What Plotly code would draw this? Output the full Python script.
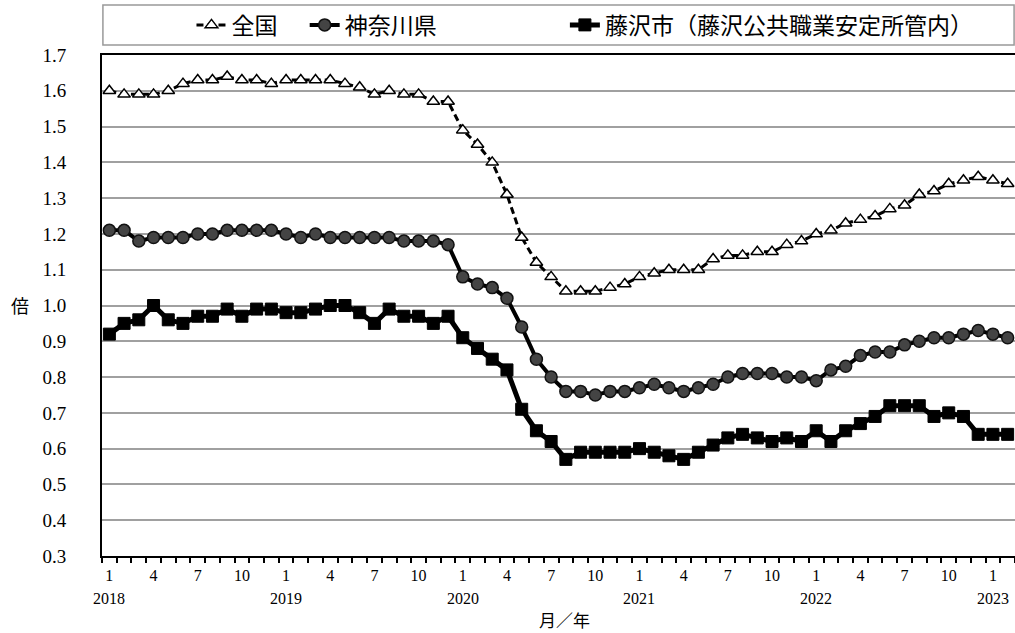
import plotly.graph_objects as go

years = [2018, 2019, 2020, 2021, 2022, 2023]
months_per_year = [12, 12, 12, 12, 12, 2]
tick_months = [1, 4, 7, 10]

national = [
    1.60, 1.59, 1.59, 1.59, 1.60, 1.62, 1.63, 1.63, 1.64, 1.63, 1.63, 1.62,
    1.63, 1.63, 1.63, 1.63, 1.62, 1.61, 1.59, 1.60, 1.59, 1.59, 1.57, 1.57,
    1.49, 1.45, 1.40, 1.31, 1.19, 1.12, 1.08, 1.04, 1.04, 1.04, 1.05, 1.06,
    1.08, 1.09, 1.10, 1.10, 1.10, 1.13, 1.14, 1.14, 1.15, 1.15, 1.17, 1.18,
    1.20, 1.21, 1.23, 1.24, 1.25, 1.27, 1.28, 1.31, 1.32, 1.34, 1.35, 1.36,
    1.35, 1.34,
]
kanagawa = [
    1.21, 1.21, 1.18, 1.19, 1.19, 1.19, 1.20, 1.20, 1.21, 1.21, 1.21, 1.21,
    1.20, 1.19, 1.20, 1.19, 1.19, 1.19, 1.19, 1.19, 1.18, 1.18, 1.18, 1.17,
    1.08, 1.06, 1.05, 1.02, 0.94, 0.85, 0.80, 0.76, 0.76, 0.75, 0.76, 0.76,
    0.77, 0.78, 0.77, 0.76, 0.77, 0.78, 0.80, 0.81, 0.81, 0.81, 0.80, 0.80,
    0.79, 0.82, 0.83, 0.86, 0.87, 0.87, 0.89, 0.90, 0.91, 0.91, 0.92, 0.93,
    0.92, 0.91,
]
fujisawa = [
    0.92, 0.95, 0.96, 1.00, 0.96, 0.95, 0.97, 0.97, 0.99, 0.97, 0.99, 0.99,
    0.98, 0.98, 0.99, 1.00, 1.00, 0.98, 0.95, 0.99, 0.97, 0.97, 0.95, 0.97,
    0.91, 0.88, 0.85, 0.82, 0.71, 0.65, 0.62, 0.57, 0.59, 0.59, 0.59, 0.59,
    0.60, 0.59, 0.58, 0.57, 0.59, 0.61, 0.63, 0.64, 0.63, 0.62, 0.63, 0.62,
    0.65, 0.62, 0.65, 0.67, 0.69, 0.72, 0.72, 0.72, 0.69, 0.70, 0.69, 0.64,
    0.64, 0.64,
]
series_names = ["全国", "神奈川県", "藤沢市（藤沢公共職業安定所管内）"]

# build month index
month_labels = []
year_of = []
for yr, n in zip(years, months_per_year):
    for m in range(1, n + 1):
        month_labels.append(m)
        year_of.append(yr)
x = list(range(len(month_labels)))
tickvals = [i for i, m in enumerate(month_labels) if m in tick_months]
ticktext = [str(month_labels[i]) for i in tickvals]
year_pos = [i for i, m in enumerate(month_labels) if m == 1]

SERIF = "Liberation Serif, Noto Sans CJK JP, serif"
CJK = "Noto Sans CJK JP, sans-serif"

fig = go.Figure()
fig.add_trace(go.Scatter(
    x=x, y=national, name=series_names[0], mode="lines+markers",
    line=dict(color="black", width=3, dash="7px,4px"),
    marker=dict(symbol="triangle-up", size=11, color="white",
                line=dict(color="black", width=1.5)),
    legend="legend",
))
fig.add_trace(go.Scatter(
    x=x, y=kanagawa, name=series_names[1], mode="lines+markers",
    line=dict(color="black", width=4),
    marker=dict(symbol="circle", size=12, color="#444444",
                line=dict(color="#111111", width=1.5)),
    legend="legend2",
))
fig.add_trace(go.Scatter(
    x=x, y=fujisawa, name=series_names[2], mode="lines+markers",
    line=dict(color="black", width=5),
    marker=dict(symbol="square", size=12, color="black",
                line=dict(color="black", width=1)),
    legend="legend3",
))

annotations = []
for yr, p in zip(years, year_pos):
    annotations.append(dict(
        x=p, y=-0.084, xref="x", yref="paper", text=str(yr),
        showarrow=False, xanchor="center", yanchor="middle",
        font=dict(family=SERIF, size=16, color="black"),
    ))
annotations.append(dict(
    x=0.507, y=-0.127, xref="paper", yref="paper", text="月／年",
    showarrow=False, xanchor="center", yanchor="middle",
    font=dict(family=CJK, size=17, color="black"),
))
annotations.append(dict(
    x=-0.09, y=0.501, xref="paper", yref="paper", text="倍",
    showarrow=False, xanchor="center", yanchor="middle",
    font=dict(family=CJK, size=18, color="black"),
))

legend_common = dict(
    orientation="h", yanchor="middle", y=1.06, xanchor="left",
    font=dict(family=CJK, size=23, color="black"),
    bgcolor="rgba(0,0,0,0)", borderwidth=0,
)

fig.update_layout(
    width=1015, height=633,
    margin=dict(l=102, r=0, t=55, b=77),
    paper_bgcolor="white", plot_bgcolor="white",
    showlegend=True,
    legend=dict(x=0.098, **legend_common),
    legend2=dict(x=0.222, **legend_common),
    legend3=dict(x=0.507, **legend_common),
    annotations=annotations,
    shapes=[dict(
        type="rect", xref="paper", yref="paper",
        x0=0.001, x1=0.999, y0=1.02, y1=1.1,
        line=dict(color="#999999", width=1.5), fillcolor="rgba(0,0,0,0)",
    )],
    xaxis=dict(
        range=[-0.5, len(x) - 0.5],
        tickmode="array", tickvals=tickvals, ticktext=ticktext,
        ticks="", ticklabelstandoff=4,
        tickfont=dict(family=SERIF, size=16, color="black"),
        showgrid=False, zeroline=False,
        showline=True, linecolor="black", linewidth=2, mirror=True,
        minor=dict(tickmode="linear", tick0=0.5, dtick=1, ticks="outside",
                   ticklen=5, tickwidth=1.5, tickcolor="black", showgrid=False),
    ),
    yaxis=dict(
        range=[0.3, 1.7], tickmode="linear", tick0=0.3, dtick=0.1,
        tickformat=".1f", ticks="", ticklabelstandoff=30,
        tickfont=dict(family=SERIF, size=19, color="black"),
        showgrid=True, gridcolor="#a0a0a0", gridwidth=1.5,
        zeroline=False, showline=True, linecolor="black", linewidth=2,
    ),
)

fig.write_html("out.html")
